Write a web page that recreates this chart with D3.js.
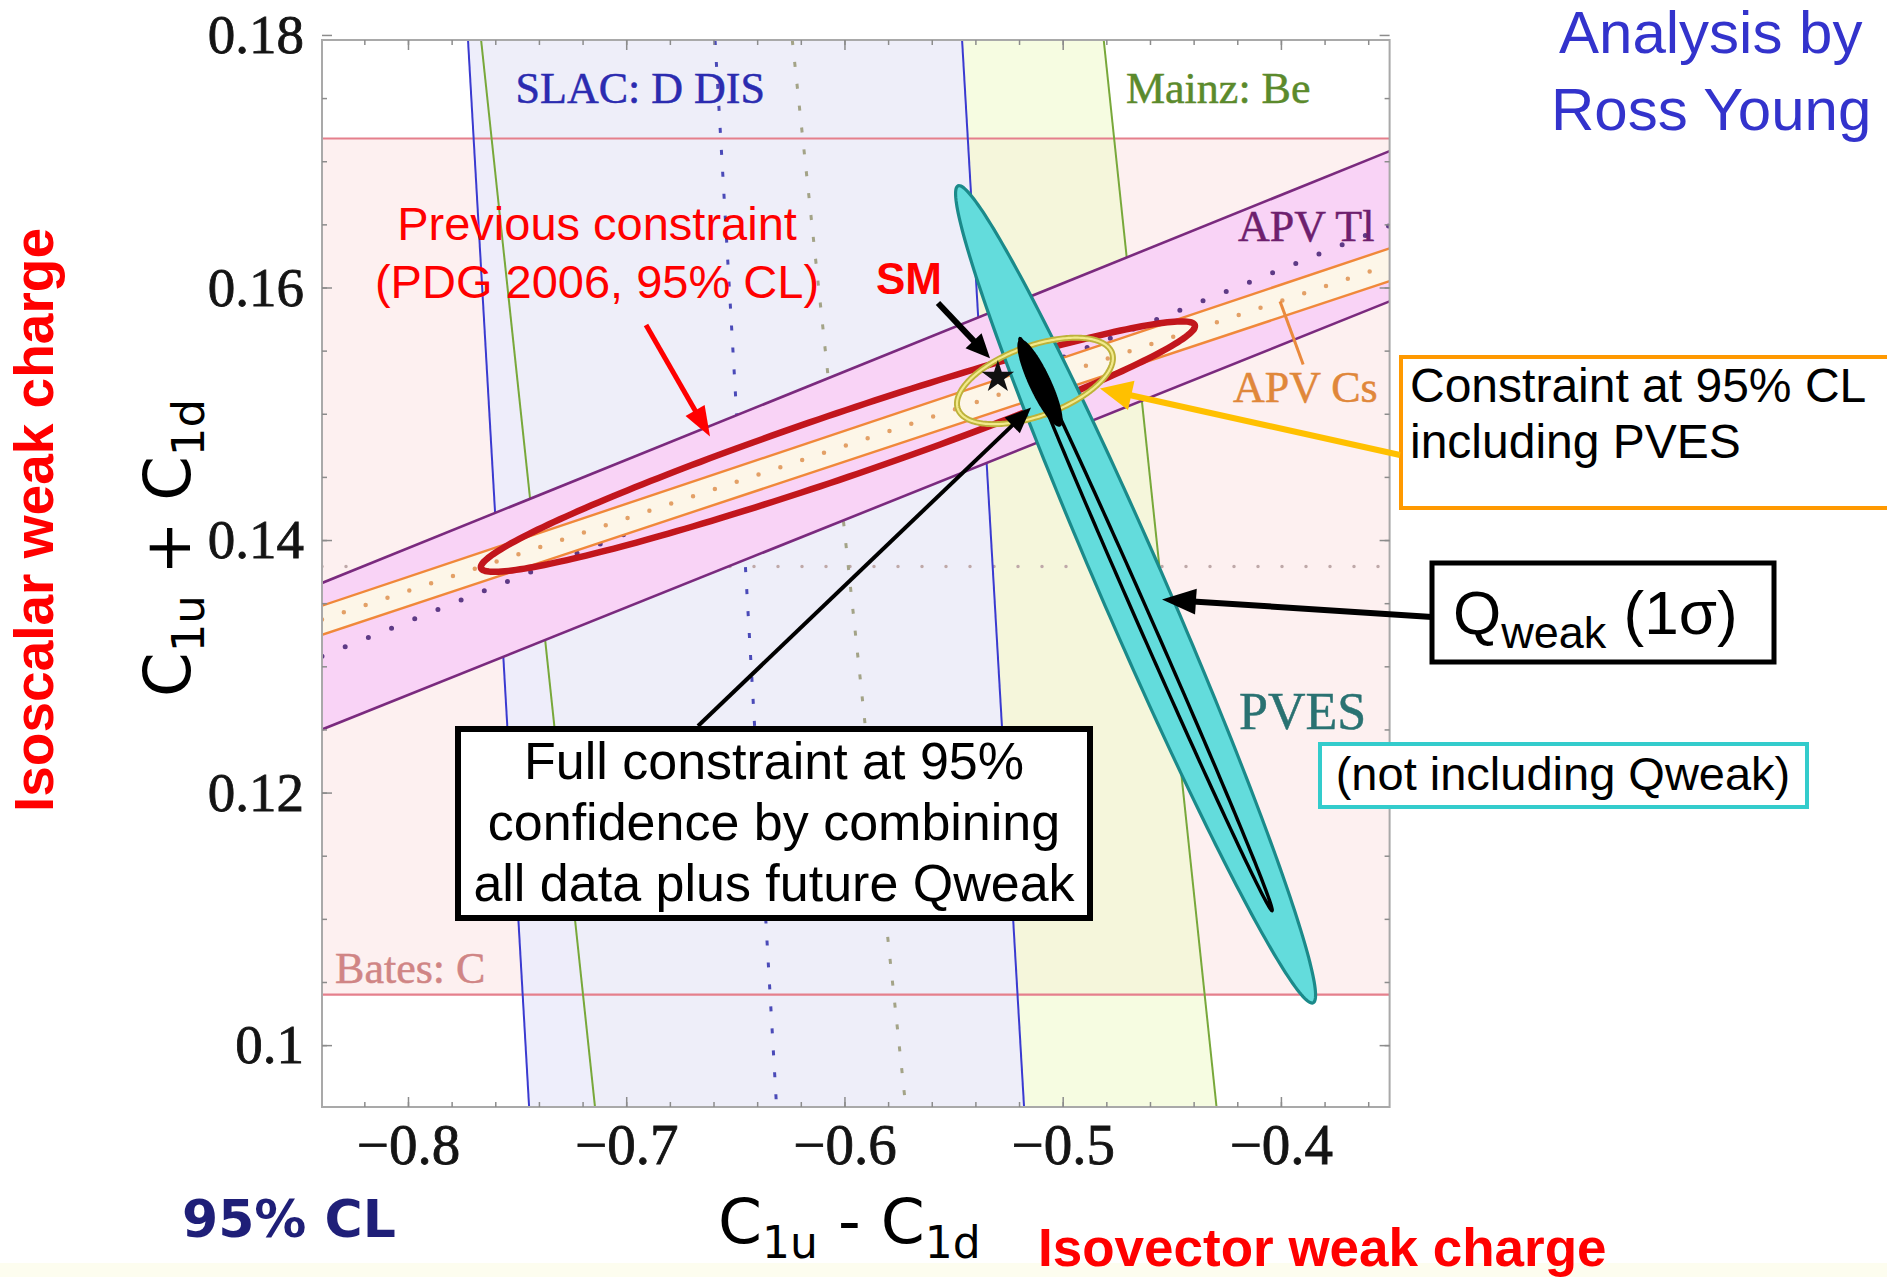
<!DOCTYPE html>
<html><head><meta charset="utf-8">
<script src="https://cdnjs.cloudflare.com/ajax/libs/d3/7.8.5/d3.min.js"></script>
<style>body{margin:0;background:#fff;} svg{display:block;}</style>
</head><body>
<svg id="chart" width="1887" height="1277"></svg>
<script>
// ---------------- DATA ----------------
const xDomain = [-0.8394, -0.3502];
const yDomain = [0.0951, 0.1796];
const xTicks = [-0.8, -0.7, -0.6, -0.5, -0.4];
const xTickLabels = ["\u22120.8", "\u22120.7", "\u22120.6", "\u22120.5", "\u22120.4"];
const yTicks = [0.1, 0.12, 0.14, 0.16, 0.18];
const yTickLabels = ["0.1", "0.12", "0.14", "0.16", "0.18"];

// Bates: C  (horizontal band in C1u+C1d)
const batesBand = [0.1040, 0.1718];
const batesCenter = 0.1379;

// SLAC: D DIS band edges  [[x,yTop],[x,yBottom]]
const slacLeft   = [[-0.7725, 0.1796], [-0.7445, 0.0951]];
const slacRight  = [[-0.5461, 0.1796], [-0.5177, 0.0951]];
const slacCenter = [[-0.6593, 0.1796], [-0.6311, 0.0951]];

// Mainz: Be band edges
const mainzLeft   = [[-0.7665, 0.1796], [-0.7143, 0.0951]];
const mainzRight  = [[-0.4812, 0.1796], [-0.4295, 0.0951]];
const mainzCenter = [[-0.6239, 0.1796], [-0.5719, 0.0951]];

// APV Tl band edges  [[xLeft,y],[xRight,y]]
const tlUpper  = [[-0.8394, 0.1366], [-0.3502, 0.1708]];
const tlLower  = [[-0.8394, 0.1250], [-0.3502, 0.1589]];
const tlCenter = [[-0.8394, 0.1308], [-0.3502, 0.1649]];

// APV Cs band edges
const csUpper  = [[-0.8394, 0.1348], [-0.3502, 0.1631]];
const csLower  = [[-0.8394, 0.1325], [-0.3502, 0.1605]];
const csCenter = [[-0.8394, 0.1337], [-0.3502, 0.1618]];
const csPointer = [[-0.4004, 0.1589], [-0.3898, 0.1539]];

// Ellipses: centre, semi-major vector, semi-minor vector (data units)
const pdgEllipse      = {c: [-0.6030, 0.1474], a: [0.16354, 0.00962],  b: [0.00472, -0.00240]};
const pvesEllipse     = {c: [-0.4666, 0.1357], a: [-0.08134, 0.03235], b: [0.01366, 0.001026]};
const combinedEllipse = {c: [-0.5127, 0.1526], a: [0.03531, 0.002221], b: [0.005485, -0.002605]};
const qweakEllipse    = {c: [-0.4618, 0.1333], a: [-0.05774, 0.02265], b: [0.002937, 0.000223]};
const fullEllipse     = {c: [-0.5104, 0.15244], a: [-0.009302, 0.003445], b: [0.004567, 0.000368]};

const smPoint = [-0.5297, 0.1529];

// arrow targets (data units)
const smArrowTip    = [-0.5333, 0.1544];
const pdgArrowTip   = [-0.6616, 0.1482];
const fullArrowTip  = [-0.5145, 0.1505];
const pvesArrowTip  = [-0.4829, 0.1520];
const qweakArrowTip = [-0.4545, 0.1353];

// in-plot labels: text, [x,y] data position of the baseline start
const plotLabels = [
  {t: "SLAC: D DIS", p: [-0.7507, 0.1746], col: "#2b2bb0", fs: 44},
  {t: "Mainz: Be",   p: [-0.4710, 0.1746], col: "#5b8a2c", fs: 44},
  {t: "APV Tl",      p: [-0.4197, 0.1637], col: "#6e1f6e", fs: 44},
  {t: "APV Cs",      p: [-0.4220, 0.1509], col: "#e0873a", fs: 44},
  {t: "PVES",        p: [-0.4192, 0.1250], col: "#2a7272", fs: 52},
  {t: "Bates: C",    p: [-0.8334, 0.1049], col: "#d08585", fs: 44}
];

// ---------------- DRAWING ----------------
const W = 1887, H = 1277;
const PL = 322, PR = 1389.6, PT = 40, PB = 1107;
const x = d3.scaleLinear().domain(xDomain).range([PL, PR]);
const y = d3.scaleLinear().domain(yDomain).range([PB, PT]);
const pt = p => [x(p[0]), y(p[1])];
const line = d3.line();

const svg = d3.select('#chart');
svg.append('rect').attr('width', W).attr('height', H).attr('fill', '#fff');
svg.append('rect').attr('x', 0).attr('y', 1263).attr('width', W).attr('height', 14).attr('fill', '#fdfdef');

const defs = svg.append('defs');
defs.append('clipPath').attr('id', 'plotclip').append('rect')
  .attr('x', PL).attr('y', PT).attr('width', PR - PL).attr('height', PB - PT);

const plot = svg.append('g').attr('clip-path', 'url(#plotclip)');
plot.append('rect').attr('x', PL).attr('y', PT).attr('width', PR - PL).attr('height', PB - PT).attr('fill', '#fff');

function quad(a, b) { return line([pt(a[0]), pt(a[1]), pt(b[1]), pt(b[0])]) + 'Z'; }
function seg(g, s, color, w, dash, cap) {
  g.append('path').attr('d', line(s.map(pt))).attr('fill', 'none')
    .attr('stroke', color).attr('stroke-width', w)
    .attr('stroke-dasharray', dash || null).attr('stroke-linecap', cap || 'butt');
}
function ellipse(e, n = 240) {
  const pts = d3.range(n).map(i => {
    const t = 2 * Math.PI * i / n, c = Math.cos(t), s = Math.sin(t);
    return pt([e.c[0] + c * e.a[0] + s * e.b[0], e.c[1] + c * e.a[1] + s * e.b[1]]);
  });
  return d3.line().curve(d3.curveLinearClosed)(pts);
}

// Bates band
plot.append('rect').attr('x', PL).attr('width', PR - PL)
  .attr('y', y(batesBand[1])).attr('height', y(batesBand[0]) - y(batesBand[1]))
  .attr('fill', '#fdf0f0');
// Mainz band
plot.append('path').attr('d', quad(mainzLeft, mainzRight)).attr('fill', 'rgba(240,250,205,0.6)');
// SLAC band
plot.append('path').attr('d', quad(slacLeft, slacRight)).attr('fill', 'rgba(237,237,251,0.93)');

// Bates lines
[batesBand[0], batesBand[1]].forEach(v => seg(plot, [[xDomain[0], v], [xDomain[1], v]], '#e57f8c', 2.2));
seg(plot, [[xDomain[0], batesCenter], [xDomain[1], batesCenter]], '#bfa9a9', 3.5, '0 24', 'round');
// SLAC lines
seg(plot, slacLeft, '#3a3ad0', 2);
seg(plot, slacRight, '#3a3ad0', 2);
seg(plot, slacCenter, '#4a4ab8', 3, '5 17');
// Mainz lines
seg(plot, mainzLeft, '#78a83a', 2);
seg(plot, mainzRight, '#78a83a', 2);
seg(plot, mainzCenter, '#a3a387', 3, '5 17');

// APV Tl band
plot.append('path').attr('d', quad(tlUpper, tlLower)).attr('fill', '#f9d3f6');
seg(plot, tlCenter, '#5e3a86', 5, '0 25', 'round');
// APV Cs band
plot.append('path').attr('d', quad(csUpper, csLower)).attr('fill', '#fdf6e8');
seg(plot, csCenter, '#e3a066', 4.5, '0 23', 'round');
seg(plot, csUpper, '#f0883a', 2.4);
seg(plot, csLower, '#f0883a', 2.4);
seg(plot, tlUpper, '#7a2a7e', 2.6);
seg(plot, tlLower, '#7a2a7e', 2.6);
seg(plot, csPointer, '#ea8a3e', 3);

// previous constraint (PDG 2006)
plot.append('path').attr('d', ellipse(pdgEllipse)).attr('fill', 'none')
  .attr('stroke', '#c2161c').attr('stroke-width', 6.5);
// PVES ellipse
plot.append('path').attr('d', ellipse(pvesEllipse)).attr('fill', '#63dcdc')
  .attr('stroke', '#1b8a8a').attr('stroke-width', 3.2);
// combined incl. PVES
plot.append('path').attr('d', ellipse(combinedEllipse)).attr('fill', 'none')
  .attr('stroke', '#bdb23a').attr('stroke-width', 6);
plot.append('path').attr('d', ellipse(combinedEllipse)).attr('fill', 'none')
  .attr('stroke', '#f2ea8c').attr('stroke-width', 2.2);
// Qweak 1 sigma
plot.append('path').attr('d', ellipse(qweakEllipse)).attr('fill', 'none')
  .attr('stroke', '#000').attr('stroke-width', 3.4);
// full constraint
plot.append('path').attr('d', ellipse(fullEllipse)).attr('fill', '#000');
// SM star
plot.append('path').attr('d', d3.symbol().type(d3.symbolStar).size(330)())
  .attr('transform', `translate(${x(smPoint[0])},${y(smPoint[1])})`).attr('fill', '#111');

// in-plot labels
svg.append('g').selectAll('text').data(plotLabels).join('text')
  .attr('x', d => x(d.p[0])).attr('y', d => y(d.p[1]))
  .attr('fill', d => d.col)
  .attr('font-family', '"Liberation Serif", "Times New Roman", serif')
  .attr('font-size', d => d.fs)
  .attr('stroke', d => d.col).attr('stroke-width', 0.5)
  .text(d => d.t);

// frame + axes
svg.append('rect').attr('x', PL).attr('y', PT).attr('width', PR - PL).attr('height', PB - PT)
  .attr('fill', 'none').attr('stroke', '#a9a9a9').attr('stroke-width', 2);

function styleAxis(g) {
  g.select('.domain').remove();
  g.selectAll('.tick line').attr('stroke', '#8c8c8c').attr('stroke-width', 1.5);
}
const minorX = x.ticks(25), minorY = y.ticks(17);
const axMinor = [
  d3.axisBottom(x).tickValues(minorX).tickFormat('').tickSizeInner(-5).tickSizeOuter(0),
  d3.axisTop(x).tickValues(minorX).tickFormat('').tickSizeInner(-5).tickSizeOuter(0),
  d3.axisLeft(y).tickValues(minorY).tickFormat('').tickSizeInner(-5).tickSizeOuter(0),
  d3.axisRight(y).tickValues(minorY).tickFormat('').tickSizeInner(-5).tickSizeOuter(0)
];
const axPos = [`translate(0,${PB})`, `translate(0,${PT})`, `translate(${PL},0)`, `translate(${PR},0)`];
axMinor.forEach((a, i) => svg.append('g').attr('transform', axPos[i]).call(a).call(styleAxis));

const gx = svg.append('g').attr('transform', `translate(0,${PB})`)
  .call(d3.axisBottom(x).tickValues(xTicks).tickFormat((d, i) => xTickLabels[i])
    .tickSizeInner(-10).tickSizeOuter(0).tickPadding(17))
  .call(styleAxis);
gx.selectAll('text').attr('font-family', '"Liberation Serif", "Times New Roman", serif')
  .attr('font-size', 57).attr('fill', '#141414').attr('stroke', '#141414').attr('stroke-width', 0.8);
svg.append('g').attr('transform', `translate(0,${PT})`)
  .call(d3.axisTop(x).tickValues(xTicks).tickFormat('').tickSizeInner(-10).tickSizeOuter(0)).call(styleAxis);

const gy = svg.append('g').attr('transform', `translate(${PL},0)`)
  .call(d3.axisLeft(y).tickValues(yTicks).tickFormat((d, i) => yTickLabels[i])
    .tickSizeInner(-10).tickSizeOuter(0).tickPadding(18))
  .call(styleAxis);
gy.selectAll('text').attr('font-family', '"Liberation Serif", "Times New Roman", serif')
  .attr('font-size', 55).attr('fill', '#141414').attr('stroke', '#141414').attr('stroke-width', 0.8);
svg.append('g').attr('transform', `translate(${PR},0)`)
  .call(d3.axisRight(y).tickValues(yTicks).tickFormat('').tickSizeInner(-10).tickSizeOuter(0)).call(styleAxis);

// ---------------- ANNOTATIONS ----------------
const ann = svg.append('g');
function arrow(x1, y1, tip, color, w, hl, hw) {
  const [x2, y2] = tip;
  const dx = x2 - x1, dy = y2 - y1, L = Math.hypot(dx, dy), ux = dx / L, uy = dy / L;
  const bx = x2 - ux * hl, by = y2 - uy * hl;
  ann.append('line').attr('x1', x1).attr('y1', y1).attr('x2', bx + ux * 3).attr('y2', by + uy * 3)
    .attr('stroke', color).attr('stroke-width', w);
  ann.append('path').attr('d', `M${x2},${y2}L${bx - uy * hw / 2},${by + ux * hw / 2}L${bx + uy * hw / 2},${by - ux * hw / 2}Z`)
    .attr('fill', color);
}
const sans = '"Liberation Sans", Arial, sans-serif';

// Previous constraint
ann.append('text').attr('x', 597).attr('y', 240).attr('text-anchor', 'middle')
  .attr('font-family', sans).attr('font-size', 47).attr('fill', '#ff0000').text('Previous constraint');
ann.append('text').attr('x', 597).attr('y', 298).attr('text-anchor', 'middle')
  .attr('font-family', sans).attr('font-size', 47).attr('fill', '#ff0000').text('(PDG 2006, 95% CL)');
arrow(646, 325, pt(pdgArrowTip), '#ff0000', 5, 30, 22);

// SM
ann.append('text').attr('x', 876).attr('y', 294).attr('font-family', sans).attr('font-weight', 'bold')
  .attr('font-size', 44).attr('fill', '#ff0000').text('SM');
arrow(938, 303, pt(smArrowTip), '#000', 6, 24, 22);

// Full constraint box
ann.append('rect').attr('x', 458).attr('y', 729).attr('width', 632).attr('height', 189)
  .attr('fill', '#fff').attr('stroke', '#000').attr('stroke-width', 6);
['Full constraint at 95%', 'confidence by combining', 'all data plus future Qweak'].forEach((t, i) => {
  ann.append('text').attr('x', 774).attr('y', 779 + i * 61).attr('text-anchor', 'middle')
    .attr('font-family', sans).attr('font-size', 52).attr('fill', '#000').text(t);
});
arrow(698, 726, pt(fullArrowTip), '#000', 4, 26, 22);

// Orange box (Constraint at 95% CL including PVES)
ann.append('rect').attr('x', 1401).attr('y', 357).attr('width', 560).attr('height', 151)
  .attr('fill', '#fff').attr('stroke', '#ff9900').attr('stroke-width', 4);
ann.append('text').attr('x', 1410).attr('y', 402).attr('font-family', sans).attr('font-size', 48).attr('fill', '#000').text('Constraint at 95% CL');
ann.append('text').attr('x', 1410).attr('y', 458).attr('font-family', sans).attr('font-size', 48).attr('fill', '#000').text('including PVES');
arrow(1400, 455, pt(pvesArrowTip), '#ffc000', 6, 32, 30);

// Qweak box
ann.append('rect').attr('x', 1432).attr('y', 563).attr('width', 342).attr('height', 99)
  .attr('fill', '#fff').attr('stroke', '#000').attr('stroke-width', 5);
const qt = ann.append('text').attr('x', 1453).attr('y', 634).attr('font-family', sans).attr('font-size', 62).attr('fill', '#000');
qt.append('tspan').text('Q');
qt.append('tspan').attr('font-size', 45).attr('dy', 14).text('weak');
qt.append('tspan').attr('dy', -14).text(' (1\u03c3)');
arrow(1432, 617, pt(qweakArrowTip), '#000', 6, 34, 26);

// not including Qweak box
ann.append('rect').attr('x', 1320).attr('y', 744).attr('width', 487).attr('height', 63)
  .attr('fill', '#fff').attr('stroke', '#33cccc').attr('stroke-width', 4);
ann.append('text').attr('x', 1563).attr('y', 790).attr('text-anchor', 'middle')
  .attr('font-family', sans).attr('font-size', 47).attr('fill', '#000').text('(not including Qweak)');

// Analysis by Ross Young
ann.append('text').attr('x', 1559).attr('y', 53).attr('font-family', sans).attr('font-size', 60).attr('fill', '#3333cc').text('Analysis by');
ann.append('text').attr('x', 1551).attr('y', 130).attr('font-family', sans).attr('font-size', 60).attr('fill', '#3333cc').text('Ross Young');

// axis titles
const dv = '"DejaVu Sans", Verdana, sans-serif';
const xl = ann.append('text').attr('x', 718).attr('y', 1243).attr('font-family', dv).attr('font-size', 63).attr('fill', '#000');
xl.append('tspan').text('C');
xl.append('tspan').attr('font-size', 44).attr('dy', 15).text('1u');
xl.append('tspan').attr('dy', -15).text(' - C');
xl.append('tspan').attr('font-size', 44).attr('dy', 15).text('1d');

const yl = ann.append('text').attr('transform', 'translate(190,697) rotate(-90)').attr('font-family', dv).attr('font-size', 64).attr('fill', '#000');
yl.append('tspan').text('C');
yl.append('tspan').attr('font-size', 45).attr('dy', 14).text('1u');
yl.append('tspan').attr('dy', -14).text(' + C');
yl.append('tspan').attr('font-size', 45).attr('dy', 14).text('1d');

ann.append('text').attr('transform', 'translate(53,812) rotate(-90)').attr('font-family', sans)
  .attr('font-weight', 'bold').attr('font-size', 55).attr('fill', '#ff0000').text('Isoscalar weak charge');
ann.append('text').attr('x', 1038).attr('y', 1266).attr('font-family', sans)
  .attr('font-weight', 'bold').attr('font-size', 53).attr('fill', '#ff0000').text('Isovector weak charge');
ann.append('text').attr('x', 182).attr('y', 1237).attr('font-family', dv)
  .attr('font-weight', 'bold').attr('font-size', 52).attr('fill', '#1f1f78').text('95% CL');
</script>
</body></html>
